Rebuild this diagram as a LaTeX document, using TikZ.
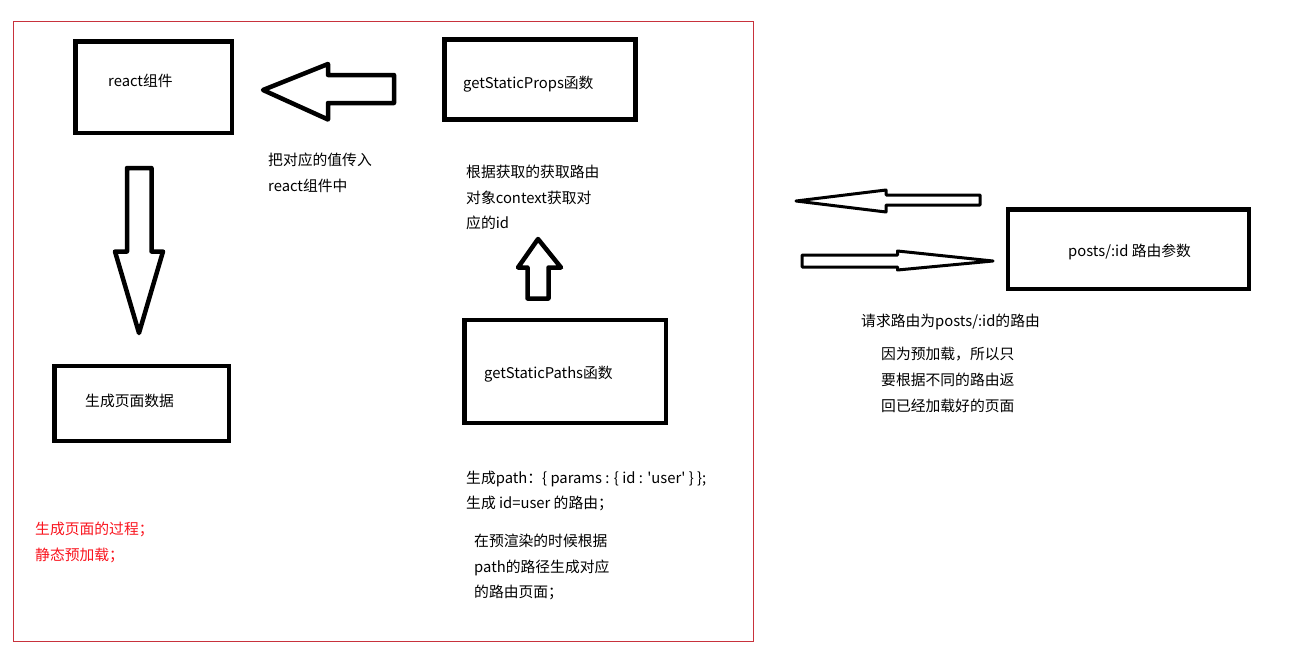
\documentclass[tikz,border=0pt]{standalone}
\usepackage{fontspec}
\setmainfont{Noto Sans CJK SC}
\definecolor{framecol}{RGB}{200,50,60}
\definecolor{redtext}{RGB}{250,20,30}
\begin{document}
\begin{tikzpicture}[x=1pt,y=-1pt,
  box/.style={draw=black,line width=4.5pt,line join=miter,inner sep=0pt},
  blockarrow/.style={draw=black,line width=4.5pt,line join=round,fill=white},
  thinarrow/.style={draw=black,line width=3pt,line join=round,fill=white},
  txt/.style={anchor=base west,inner sep=0pt,font=\fontsize{14.8}{18}\selectfont},
  redtxt/.style={txt,text=redtext},
  frameline/.style={draw=framecol,line width=1pt}
]
\useasboundingbox (0,0) rectangle (1313,648);
\fill[white] (0,0) rectangle (1313,648);
\draw[frameline] (13.5,21.5) rectangle (753,641.5);

% boxes
\node[box,minimum width=156.5pt,minimum height=91.5pt] (react) at (153.75,87.25) {};
\node[box,minimum width=191pt,minimum height=80pt] (props) at (540,79.5) {};
\node[box,minimum width=174.5pt,minimum height=75pt] (page) at (141.75,403.5) {};
\node[box,minimum width=201.5pt,minimum height=103pt] (paths) at (565.25,371.5) {};
\node[box,minimum width=241pt,minimum height=79.5pt] (posts) at (1128.5,249.25) {};

% box labels
\node[txt] (reactlbl) at (108,86) {react组件};
\node[txt] (propslbl) at (463,88) {getStaticProps函数};
\node[txt] (pagelbl) at (85,406) {生成页面数据};
\node[txt] (pathslbl) at (484,378) {getStaticPaths函数};
\node[txt] (postslbl) at (1068,256) {posts/:id 路由参数};

% block arrows
\draw[blockarrow] (263,90) -- (328,64) -- (328,75) -- (394,75) -- (394,103) -- (328,103) -- (328,119.5) -- cycle;
\draw[blockarrow] (127,168) -- (151.5,168) -- (151.5,251.5) -- (163,251.5) -- (139,333) -- (115,251.5) -- (127,251.5) -- cycle;
\draw[blockarrow] (538,239) -- (561,267.5) -- (548.5,267.5) -- (548.5,298.5) -- (527.5,298.5) -- (527.5,267.5) -- (518,267.5) -- cycle;
\draw[thinarrow] (796,201) -- (886,190) -- (886,195) -- (980,195) -- (980,205) -- (886,205) -- (886,212) -- cycle;
\draw[thinarrow] (802,255) -- (897.5,255) -- (897.5,251) -- (993,261) -- (897.5,270) -- (897.5,267) -- (802,267) -- cycle;

% annotations
\node[txt] (passa) at (268,165) {把对应的值传入};
\node[txt] (passb) at (268,191) {react组件中};

\node[txt] (ctxa) at (466,177) {根据获取的获取路由};
\node[txt] (ctxb) at (466,203) {对象context获取对};
\node[txt] (ctxc) at (466,228) {应的id};

\node[txt] (reqa) at (861,326) {请求路由为posts/:id的路由};
\node[txt] (prea) at (881,359) {因为预加载，所以只};
\node[txt] (preb) at (881,385) {要根据不同的路由返};
\node[txt] (prec) at (881,411) {回已经加载好的页面};

\node[txt] (gena) at (466,483) {生成path：\{ params : \{ id : \textquotesingle user\textquotesingle\ \} \};};
\node[txt] (genb) at (466,508) {生成 id=user 的路由；};
\node[txt] (rendera) at (474,546) {在预渲染的时候根据};
\node[txt] (renderb) at (474,572) {path的路径生成对应};
\node[txt] (renderc) at (474,597) {的路由页面；};

\node[redtxt] (reda) at (35,534) {生成页面的过程；};
\node[redtxt] (redb) at (35,560) {静态预加载；};
\end{tikzpicture}
\end{document}
